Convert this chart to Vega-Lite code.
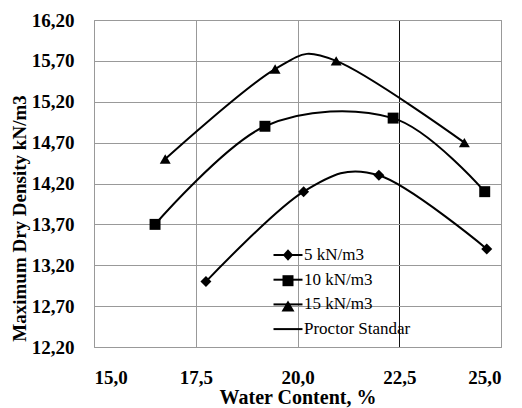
{
  "$schema": "https://vega.github.io/schema/vega-lite/v6.json",
  "width": 407,
  "height": 327,
  "autosize": {"type": "none"},
  "padding": {"left": 94, "top": 20, "right": 21, "bottom": 61},
  "background": "white",
  "config": {
    "font": "Liberation Serif",
    "view": {"stroke": "#999999", "strokeWidth": 1},
    "axis": {
      "labelFont": "Liberation Serif",
      "labelFontWeight": "bold",
      "labelFontSize": 19,
      "labelColor": "black",
      "titleFont": "Liberation Serif",
      "titleFontWeight": "bold",
      "titleColor": "black",
      "ticks": false,
      "domain": false,
      "gridColor": "#999999",
      "gridOpacity": 1,
      "gridWidth": 1
    },
    "legend": {
      "labelFont": "Liberation Serif",
      "titleFont": "Liberation Serif"
    }
  },
  "data": {
    "values": [
      {"series": "5 kN/m3", "w": 17.75, "d": 13.0},
      {"series": "5 kN/m3", "w": 20.15, "d": 14.1},
      {"series": "5 kN/m3", "w": 22.0, "d": 14.3},
      {"series": "5 kN/m3", "w": 24.65, "d": 13.4},
      {"series": "10 kN/m3", "w": 16.5, "d": 13.7},
      {"series": "10 kN/m3", "w": 19.2, "d": 14.9},
      {"series": "10 kN/m3", "w": 22.35, "d": 15.0},
      {"series": "10 kN/m3", "w": 24.6, "d": 14.1},
      {"series": "15 kN/m3", "w": 16.75, "d": 14.5},
      {"series": "15 kN/m3", "w": 19.45, "d": 15.6},
      {"series": "15 kN/m3", "w": 20.95, "d": 15.7},
      {"series": "15 kN/m3", "w": 24.1, "d": 14.7}
    ]
  },
  "encoding": {
    "x": {
      "field": "w",
      "type": "quantitative",
      "scale": {"domain": [15, 25], "nice": false, "zero": false},
      "axis": {
        "values": [15, 17.5, 20, 22.5, 25],
        "labelExpr": "replace(format(datum.value, '.1f'), '.', ',')",
        "labelFont": "Liberation Serif",
        "labelPadding": 21,
        "title": "Water Content, %",
        "titleFontSize": 20,
        "titleBaseline": "alphabetic",
        "titleY": 56,
        "gridColor": {"condition": {"test": "datum.value === 22.5", "value": "#111111"}, "value": "#999999"}
      }
    },
    "y": {
      "field": "d",
      "type": "quantitative",
      "scale": {"domain": [12.2, 16.2], "nice": false, "zero": false},
      "axis": {
        "values": [12.2, 12.7, 13.2, 13.7, 14.2, 14.7, 15.2, 15.7, 16.2],
        "labelExpr": "replace(format(datum.value, '.2f'), '.', ',')",
        "labelFont": "Liberation Serif",
        "labelPadding": 20,
        "title": "Maximum Dry Density kN/m3",
        "titleFontSize": 19,
        "titleBaseline": "alphabetic",
        "titleX": -69,
        "titleY": 198
      }
    }
  },
  "resolve": {"scale": {"shape": "independent"}},
  "layer": [
    {
      "mark": {"type": "line", "interpolate": "cardinal", "strokeWidth": 2},
      "encoding": {
        "color": {
          "field": "series",
          "type": "nominal",
          "scale": {
            "domain": ["5 kN/m3", "10 kN/m3", "15 kN/m3", "Proctor Standar"],
            "range": ["black", "black", "black", "black"]
          },
          "legend": {
            "title": null,
            "orient": "none",
            "legendX": 183,
            "legendY": 224,
            "symbolType": "M-1.45,0H1.45",
            "symbolSize": 400,
            "symbolStrokeWidth": 2,
            "rowPadding": 5.7,
            "labelOffset": 5,
            "labelFont": "Liberation Serif",
            "labelFontSize": 17,
            "labelColor": "black",
            "labelFontWeight": "normal"
          }
        }
      }
    },
    {
      "mark": {"type": "point", "filled": true, "color": "black", "opacity": 1, "size": 120},
      "encoding": {
        "shape": {
          "field": "series",
          "type": "nominal",
          "scale": {
            "domain": ["5 kN/m3", "10 kN/m3", "15 kN/m3"],
            "range": ["diamond", "square", "triangle-up"]
          },
          "legend": null
        }
      }
    },
    {
      "transform": [{"filter": "datum.d > 100"}],
      "mark": {"type": "point", "filled": true, "color": "black", "opacity": 1, "size": 400},
      "encoding": {
        "shape": {
          "field": "series",
          "type": "nominal",
          "scale": {
            "domain": ["5 kN/m3", "10 kN/m3", "15 kN/m3"],
            "range": [
              "M0,-0.58L0.52,0L0,0.58L-0.52,0Z",
              "M-0.55,-0.55H0.55V0.55H-0.55Z",
              "M0,-0.6L0.65,0.5H-0.65Z"
            ]
          },
          "legend": {
            "title": null,
            "orient": "none",
            "legendX": 183,
            "legendY": 224,
            "symbolSize": 400,
            "symbolFillColor": "black",
            "symbolOpacity": 1,
            "rowPadding": 5.7,
            "labelOffset": 5,
            "labelFont": "Liberation Serif",
            "labelFontSize": 17,
            "labelExpr": "''",
            "labelFontWeight": "normal"
          }
        }
      }
    }
  ]
}
